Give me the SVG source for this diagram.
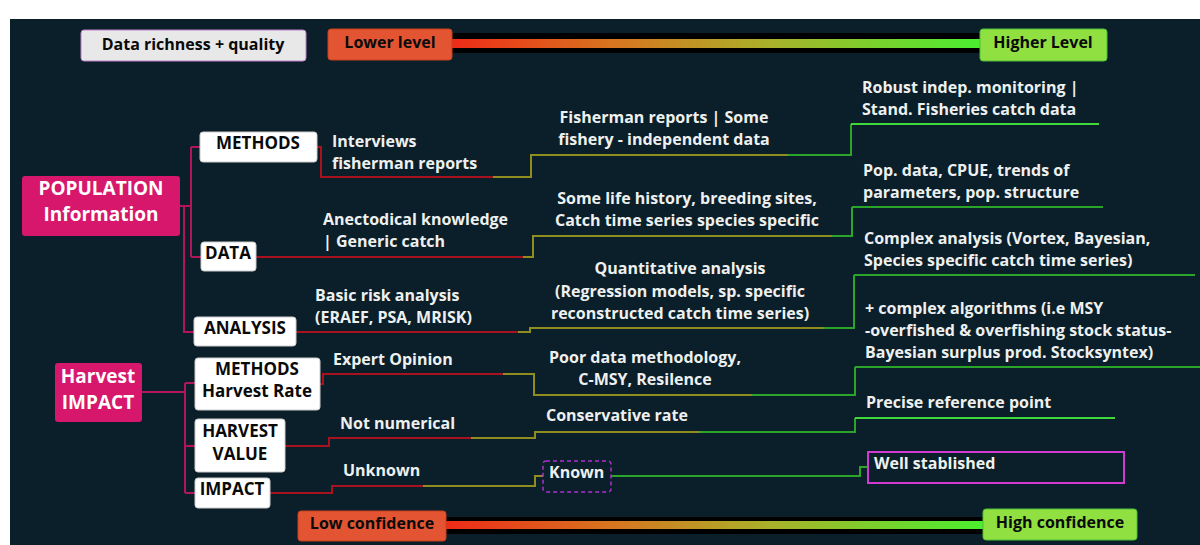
<svg xmlns="http://www.w3.org/2000/svg" width="1200" height="545" viewBox="0 0 1200 545">
<defs>
<linearGradient id="bar" x1="0" y1="0" x2="1" y2="0">
<stop offset="0" stop-color="#ee2a18"/>
<stop offset="0.3" stop-color="#d8741f"/>
<stop offset="0.6" stop-color="#a9b22a"/>
<stop offset="1" stop-color="#48f030"/>
</linearGradient>
<style>
text{font-family:"Open Sans","Liberation Sans",sans-serif;font-weight:bold;font-size:16px}
.w{fill:#eef0f0}
.k{fill:#0a0a0a}
.bx{font-size:17px}
.c{text-anchor:middle}
.wb{fill:#ffffff;stroke:#cccccc;stroke-width:1}
.hub{fill:#d6176b}
.ht{fill:#ffffff;font-size:19px;text-anchor:middle}
.cn path{fill:none;stroke-width:2}
.br{stroke:#b3155a}
.r{stroke:#a8121f}
.o{stroke:#8f8d1e}
.g{stroke:#2aa52a}
.gb{stroke:#3fd83a}
</style>
</defs>
<rect x="0" y="0" width="1200" height="545" fill="#ffffff"/>
<rect x="10" y="19" width="1190" height="526" fill="#0a1f29"/>

<g id="legend-top">
<rect x="81" y="30" width="225" height="31" rx="3" fill="#e8e8e8" stroke="#c27fd0" stroke-width="1"/>
<text x="193" y="50" class="k c">Data richness + quality</text>
<rect x="450" y="33" width="535" height="20" fill="#000000"/>
<rect x="450" y="39" width="535" height="9" fill="url(#bar)"/>
<rect x="328" y="29" width="124" height="31" rx="3" fill="#e35532" stroke="#c9401f" stroke-width="1"/>
<text x="390" y="48" class="k c">Lower level</text>
<rect x="980" y="29" width="127" height="32" rx="3" fill="#8fe040" stroke="#4fc03a" stroke-width="1"/>
<text x="1043" y="48" class="k c">Higher Level</text>
</g>

<g id="legend-bottom">
<rect x="445" y="517" width="545" height="17" fill="#000000"/>
<rect x="445" y="521" width="545" height="8" fill="url(#bar)"/>
<rect x="298" y="511" width="148" height="30" rx="3" fill="#e35532" stroke="#c9401f" stroke-width="1"/>
<text x="372" y="529" class="k c">Low confidence</text>
<rect x="983" y="509" width="154" height="31" rx="3" fill="#8fe040" stroke="#4fc03a" stroke-width="1"/>
<text x="1060" y="528" class="k c">High confidence</text>
</g>

<g id="connectors" class="cn">
<path class="br" d="M180 206 H191 M191 147 V257 M191 147 H200 M191 257 H201 M184 206 V332 H194"/>
<path class="br" d="M142 392 H185 M185 383 V493 M185 383 H195 M185 446 H195 M185 493 H195"/>
<path class="r" d="M316 147 H321 V177 H493"/>
<path class="o" d="M493 177 H531 V155 H788"/>
<path class="g" d="M788 155 H851 V124"/>
<path class="gb" d="M851 124 H1099"/>
<path class="r" d="M256 257 H523"/>
<path class="o" d="M523 257 H533 V236 H832"/>
<path class="g" d="M832 236 H852 V207"/>
<path class="g" d="M852 207 H1103"/>
<path class="r" d="M296 332 H518"/>
<path class="o" d="M518 332 H530 V328 H824"/>
<path class="g" d="M824 328 H854 V275"/>
<path class="g" d="M854 275 H1195"/>
<path class="r" d="M320 384 H323 V374 H503"/>
<path class="o" d="M503 374 H534 V395 H752"/>
<path class="g" d="M752 395 H855 V367"/>
<path class="g" d="M855 367 H1200"/>
<path class="r" d="M285 446 H329 V438 H471"/>
<path class="o" d="M471 438 H535 V432 H700"/>
<path class="g" d="M700 432 H855 V418"/>
<path class="gb" d="M855 418 H1115"/>
<path class="r" d="M270 493 H332 V486 H423"/>
<path class="o" d="M423 486 H535 V476 H543"/>
<path class="g" d="M611 476 H860 V467 H868"/>
</g>

<g id="pop">
<rect x="22" y="176" width="158" height="60" rx="3" class="hub"/>
<text x="101" y="195" class="ht">POPULATION</text>
<text x="101" y="221" class="ht">Information</text>
</g>
<g id="harvest">
<rect x="55" y="363" width="87" height="59" rx="3" class="hub"/>
<text x="98" y="383" class="ht">Harvest</text>
<text x="98" y="409" class="ht">IMPACT</text>
</g>

<g id="methods">
<rect x="200" y="132" width="117" height="30" rx="3" class="wb"/>
<text x="258" y="149" class="k c bx">METHODS</text>
</g>
<g id="data">
<rect x="201" y="242" width="55" height="29" rx="3" class="wb"/>
<text x="228" y="259" class="k c bx">DATA</text>
</g>
<g id="analysis">
<rect x="194" y="317" width="102" height="29" rx="3" class="wb"/>
<text x="245" y="334" class="k c bx">ANALYSIS</text>
</g>
<g id="methods-hr">
<rect x="195" y="358" width="125" height="52" rx="3" class="wb"/>
<text x="257" y="375" class="k c bx">METHODS</text>
<text x="257" y="397" class="k c bx">Harvest Rate</text>
</g>
<g id="harvest-value">
<rect x="195" y="419" width="90" height="53" rx="3" class="wb"/>
<text x="240" y="437" class="k c bx">HARVEST</text>
<text x="240" y="460" class="k c bx">VALUE</text>
</g>
<g id="impact">
<rect x="195" y="478" width="75" height="30" rx="3" class="wb"/>
<text x="232" y="495" class="k c bx">IMPACT</text>
</g>

<g id="row1">
<text x="332" y="147" class="w">Interviews</text>
<text x="332" y="169" class="w">fisherman reports</text>
<text x="664" y="123" class="w c">Fisherman reports | Some</text>
<text x="664" y="145" class="w c">fishery - independent data</text>
<text x="862" y="93" class="w">Robust indep. monitoring |</text>
<text x="862" y="115" class="w">Stand. Fisheries catch data</text>
</g>
<g id="row2">
<text x="323" y="225" class="w">Anectodical knowledge</text>
<text x="323" y="247" class="w">| Generic catch</text>
<text x="687" y="204" class="w c">Some life history, breeding sites,</text>
<text x="687" y="226" class="w c">Catch time series species specific</text>
<text x="863" y="176" class="w">Pop. data, CPUE, trends of</text>
<text x="863" y="198" class="w">parameters, pop. structure</text>
</g>
<g id="row3">
<text x="315" y="301" class="w">Basic risk analysis</text>
<text x="315" y="323" class="w">(ERAEF, PSA, MRISK)</text>
<text x="680" y="274" class="w c">Quantitative analysis</text>
<text x="680" y="297" class="w c">(Regression models, sp. specific</text>
<text x="680" y="319" class="w c">reconstructed catch time series)</text>
<text x="864" y="244" class="w">Complex analysis (Vortex, Bayesian,</text>
<text x="864" y="266" class="w">Species specific catch time series)</text>
</g>
<g id="row4">
<text x="333" y="365" class="w">Expert Opinion</text>
<text x="645" y="363" class="w c">Poor data methodology,</text>
<text x="645" y="385" class="w c">C-MSY, Resilence</text>
<text x="865" y="314" class="w">+ complex algorithms (i.e MSY</text>
<text x="865" y="336" class="w">-overfished &amp; overfishing stock status-</text>
<text x="865" y="358" class="w">Bayesian surplus prod. Stocksyntex)</text>
</g>
<g id="row5">
<text x="340" y="429" class="w">Not numerical</text>
<text x="546" y="421" class="w">Conservative rate</text>
<text x="866" y="408" class="w">Precise reference point</text>
</g>
<g id="row6">
<text x="343" y="476" class="w">Unknown</text>
</g>
<g id="known">
<rect x="543" y="461" width="68" height="31" rx="3" fill="none" stroke="#b030d0" stroke-width="1.5" stroke-dasharray="4 3"/>
<text x="549" y="478" class="w">Known</text>
</g>
<g id="well">
<rect x="868" y="452" width="256" height="31" fill="none" stroke="#d03ad0" stroke-width="2"/>
<text x="874" y="469" class="w">Well stablished</text>
</g>
</svg>
